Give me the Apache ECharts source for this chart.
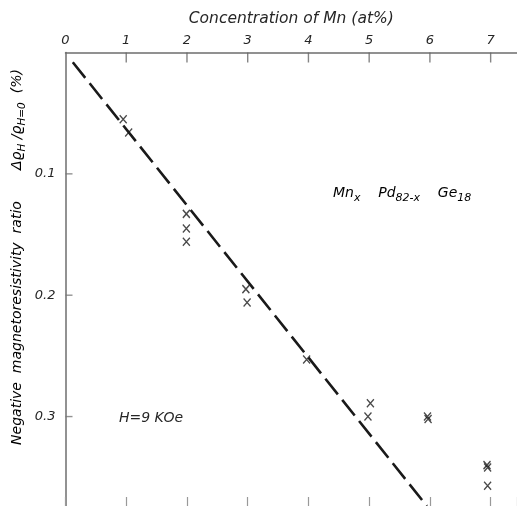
<!DOCTYPE html>
<html>
<head>
<meta charset="utf-8">
<script src="https://cdn.jsdelivr.net/npm/echarts@6/dist/echarts.min.js"></script>
<style>html,body{margin:0;padding:0;background:#fff}#c{width:517px;height:506px}</style>
</head>
<body>
<div id="c"></div>
<script>
// Measured data: Mn concentration (at%) vs negative magnetoresistivity ratio (%)
const mnConc = [0.95, 1.04, 1.99, 1.99, 1.99, 2.97, 2.99, 3.97, 5.02, 4.98, 5.96, 5.97, 6.94, 6.95, 6.95];
const mrRatio = [0.055, 0.066, 0.133, 0.145, 0.156, 0.195, 0.206, 0.253, 0.289, 0.300, 0.300, 0.302, 0.340, 0.342, 0.357];
// Dashed guide line (end points in data units)
const lineX = [0.12, 5.95];
const lineY = [0.008, 0.3737];
// Axis tick labels / tick positions
const xTickLabels = ['0', '1', '2', '3', '4', '5', '6', '7'];
const xTickMarks = [1, 2, 3, 4, 5, 6, 7];
const yTickLabels = ['0.1', '0.2', '0.3'];
const yTickMarks = [0.1, 0.2, 0.3];

const FONT = 'DejaVu Sans';
const TXT = '#262626';
const AX = '#6e6e6e';
const X_MAX = 7.434, Y_MAX = 0.3737;

const chart = echarts.init(document.getElementById('c'), null, {renderer: 'canvas'});
const pts = mnConc.map((x, i) => [x, mrRatio[i]]);
const linePts = lineX.map((x, i) => [x, lineY[i]]);
const topTicks = xTickMarks.map(x => [x, 0]);
const leftTicks = yTickMarks.map(v => [0, v]);

chart.setOption({
  animation: false,
  backgroundColor: '#fff',
  grid: {left: 65.5, right: -2, top: 52.5, bottom: -2, containLabel: false},
  xAxis: [{
    type: 'value', position: 'top', min: 0, max: X_MAX, interval: 1,
    name: 'Concentration of Mn (at%)', nameLocation: 'middle', nameGap: 26,
    nameTextStyle: {fontFamily: FONT, fontStyle: 'italic', fontSize: 15.5, color: TXT},
    axisLine: {show: true, lineStyle: {color: AX, width: 1.5}},
    axisTick: {show: false},
    axisLabel: {show: true, margin: 5, fontFamily: FONT, fontStyle: 'italic', fontSize: 13, color: TXT,
      showMaxLabel: false,
      formatter: v => { const s = String(Math.round(v * 1000) / 1000); return xTickLabels.includes(s) ? s : ''; }},
    splitLine: {show: false}
  }, {
    type: 'value', position: 'bottom', min: 0, max: X_MAX, interval: 1,
    axisLine: {show: false},
    axisTick: {show: true, inside: true, length: 9, lineStyle: {color: '#999', width: 1.2}},
    axisLabel: {show: false},
    splitLine: {show: false}
  }],
  yAxis: {
    type: 'value', inverse: true, min: 0, max: Y_MAX, interval: 0.1,
    axisLine: {show: true, lineStyle: {color: AX, width: 1.5}},
    axisTick: {show: false},
    axisLabel: {show: true, margin: 10, fontFamily: FONT, fontStyle: 'italic', fontSize: 13, color: TXT,
      showMaxLabel: false, showMinLabel: false,
      formatter: v => { const s = v.toFixed(1); return (yTickLabels.includes(s) && Math.abs(v - parseFloat(s)) < 1e-6) ? s : ''; }},
    splitLine: {show: false}
  },
  series: [{
    type: 'line', data: linePts, symbol: 'none', clip: true,
    lineStyle: {color: '#1a1a1a', width: 2.6, type: [20, 7]}
  }, {
    type: 'scatter', data: pts,
    symbol: 'path://M0,0L10,10M10,0L0,10', symbolSize: [7, 8],
    itemStyle: {color: 'transparent', borderColor: '#1c1c1c', borderWidth: 1.4}
  }, {
    // top axis tick marks (inside)
    type: 'scatter', data: topTicks, clip: false, silent: true,
    symbol: 'rect', symbolSize: [1.4, 10], symbolOffset: [0, 5],
    itemStyle: {color: '#666'}
  }, {
    // left axis tick marks (inside)
    type: 'scatter', data: leftTicks, clip: false, silent: true,
    symbol: 'rect', symbolSize: [7, 1.4], symbolOffset: [3.5, 0],
    itemStyle: {color: '#777'}
  }],
  graphic: [{
    type: 'text', x: 17, y: 257, rotation: Math.PI / 2,
    style: {
      text: '{n|Negative  magnetoresistivity  ratio       Δϱ}{s|H}{n| /ϱ}{s|H=0}{n|  (%)}',
      align: 'center', verticalAlign: 'middle',
      rich: {
        n: {fontFamily: FONT, fontStyle: 'italic', fontSize: 14, color: TXT, lineHeight: 22, verticalAlign: 'middle'},
        s: {fontFamily: FONT, fontStyle: 'italic', fontSize: 10.5, color: TXT, lineHeight: 10, verticalAlign: 'bottom'}
      }
    }
  }, {
    type: 'text', x: 333, y: 193,
    style: {
      text: '{n|Mn}{s|x}{n|    Pd}{s|82-x}{n|    Ge}{s|18}',
      align: 'left', verticalAlign: 'middle',
      rich: {
        n: {fontFamily: FONT, fontStyle: 'italic', fontSize: 14, color: TXT, lineHeight: 22, verticalAlign: 'middle'},
        s: {fontFamily: FONT, fontStyle: 'italic', fontSize: 11, color: TXT, lineHeight: 10, verticalAlign: 'bottom'}
      }
    }
  }, {
    type: 'text', x: 119, y: 418,
    style: {text: 'H=9 KOe', fontFamily: FONT, fontStyle: 'italic', fontSize: 14, fill: TXT, align: 'left', verticalAlign: 'middle'}
  }]
});
</script>
</body>
</html>
